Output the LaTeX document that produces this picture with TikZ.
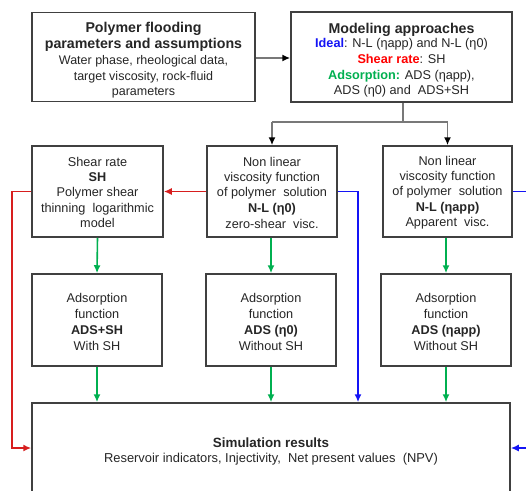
\documentclass[tikz,border=0pt]{standalone}
\usepackage{fontspec}
\setmainfont{Liberation Sans}
\usetikzlibrary{arrows.meta}
\definecolor{txt}{RGB}{38,38,38}
\definecolor{bord}{RGB}{64,64,64}
\definecolor{cblue}{RGB}{20,20,245}
\definecolor{cred}{RGB}{215,30,30}
\definecolor{cgreen}{RGB}{0,176,80}
\definecolor{cgray}{RGB}{120,120,120}
\newcommand{\ttl}[1]{\textbf{\fontsize{14.2}{17}\selectfont #1}}
\newcommand{\up}[1]{\rule{0pt}{#1}}
\tikzset{
  box/.style={draw=bord, line width=1.5pt, fill=white, align=center, text=txt,
    font=\fontsize{12.7}{15.3}\selectfont, inner sep=0pt},
  conn/.style={line width=1.6pt},
  arr/.style={-{Latex[length=8pt,width=7pt]}},
  garr/.style={-{Latex[length=8pt,width=7pt,black]}},
}
\begin{document}
\begin{tikzpicture}[x=1pt,y=-1pt]
\useasboundingbox (0,0) rectangle (526,490);
\clip (0,0) rectangle (526,490);
% top row
\node[box, minimum width=223pt, minimum height=89pt, font=\fontsize{12.5}{15.3}\selectfont] (param) at (143.5,57)
 {\up{16.5pt}\ttl{Polymer flooding}\\[1pt] \ttl{parameters and assumptions}\\
  Water phase, rheological data,\\[0.7pt] target viscosity, rock-fluid\\ parameters};
\node[box, minimum width=221pt, minimum height=90pt] (model) at (401.5,57)
 {\up{16.5pt}\ttl{Modeling approaches}\\[-1pt]
  \textcolor{cblue}{\textbf{Ideal}}: N-L (ηapp) and N-L (η0)\\[0.8pt]
  \textcolor{red}{\textbf{Shear rate}}: SH\\[0.6pt]
  \textcolor{cgreen}{\textbf{Adsorption:}} ADS (ηapp),\\[0.2pt]
  ADS (η0) and \ ADS+SH};
% second row
\node[box, minimum width=131pt, minimum height=91pt] (sh) at (97.5,191.5)
 {\up{11pt}Shear rate\\ \textbf{SH}\\ Polymer shear\\ thinning \ logarithmic\\ model};
\node[box, minimum width=130pt, minimum height=91pt] (nl0) at (272,191.5)
 {\up{11.5pt}Non linear\\ viscosity function\\ of polymer \ solution\\[0.5pt] \textbf{N-L (η0)}\\ zero-shear \ visc.};
\node[box, minimum width=129pt, minimum height=91pt] (nlapp) at (447.5,191.5)
 {\up{11.5pt}Non linear\\ viscosity function\\ of polymer \ solution\\[0.5pt] \textbf{N-L (ηapp)}\\ Apparent \ visc.};
% third row
\node[box, minimum width=130pt, minimum height=92pt] (adssh) at (97,320)
 {\up{13.5pt}Adsorption\\[0.5pt] function\\[0.5pt] \textbf{ADS+SH}\\[0.5pt] With SH};
\node[box, minimum width=130pt, minimum height=92pt] (ads0) at (271,320)
 {\up{13.5pt}Adsorption\\[0.5pt] function\\[0.5pt] \textbf{ADS (η0)}\\[0.5pt] Without SH};
\node[box, minimum width=130pt, minimum height=92pt] (adsapp) at (446,320)
 {\up{13.5pt}Adsorption\\[0.5pt] function\\[0.5pt] \textbf{ADS (ηapp)}\\[0.5pt] Without SH};
% bottom
\node[box, minimum width=478pt, minimum height=90pt, font=\fontsize{12.9}{15.3}\selectfont] (sim) at (271,448)
 {\up{17pt}\textbf{\fontsize{13.4}{15}\selectfont Simulation results}\\
  Reservoir indicators, Injectivity, \ Net present values \ (NPV)};
% connectors
\coordinate (hy) at (0,58);
\draw[conn, cgray, garr] (param.east |- hy) -- (model.west |- hy);
\coordinate (split) at (403,122);
\draw[conn, cgray] (model.south -| split) -- (split);
\draw[conn, cgray] (nl0.north |- split) -- (nlapp.north |- split);
\draw[conn, cgray, garr] (nl0.north |- split) -- (nl0.north);
\draw[conn, cgray, garr] (nlapp.north |- split) -- (nlapp.north);
% green
\draw[conn, cgreen, arr] (sh.south) -- (adssh.north);
\draw[conn, cgreen, arr] (nl0.south -| ads0.north) -- (ads0.north);
\draw[conn, cgreen, arr] (nlapp.south -| adsapp.north) -- (adsapp.north);
\draw[conn, cgreen, arr] (adssh.south) -- (adssh.south |- sim.north);
\draw[conn, cgreen, arr] (ads0.south) -- (ads0.south |- sim.north);
\draw[conn, cgreen, arr] (adsapp.south) -- (adsapp.south |- sim.north);
% red
\draw[conn, cred, arr] (nl0.west) -- (sh.east);
\coordinate (rx) at (12,0);
\draw[conn, cred, arr] (sh.west) -- (rx |- sh.west) -- (rx |- sim.west) -- (sim.west);
% blue
\coordinate (bx) at (358,0);
\draw[conn, cblue, arr] (nl0.east) -- (bx |- nl0.east) -- (bx |- sim.north);
\coordinate (bx2) at (532,0);
\draw[conn, cblue, arr] (nlapp.east) -- (bx2 |- nlapp.east) -- (bx2 |- sim.east) -- (sim.east);
\end{tikzpicture}
\end{document}
